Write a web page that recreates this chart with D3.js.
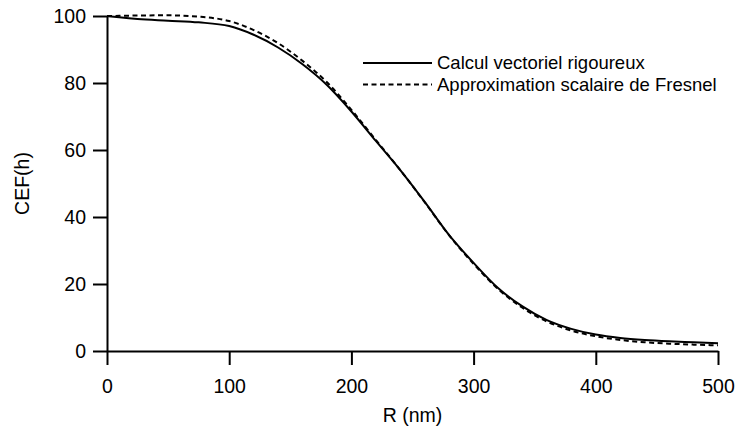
<!DOCTYPE html>
<html>
<head>
<meta charset="utf-8">
<script src="https://cdn.jsdelivr.net/npm/d3@7"></script>
<style>
  body { margin: 0; background: #fff; }
  text { font-family: "Liberation Sans", Arial, Helvetica, sans-serif; }
</style>
</head>
<body>
<svg id="chart" width="738" height="429"></svg>
<script>
// R (nm) sample positions
const radius = [0, 10, 25, 50, 75, 100, 120, 140, 160, 180, 200, 220, 240, 260, 280, 300, 320, 340, 360, 380, 400, 420, 440, 460, 480, 500];
// rigorous vector computation
const vectoriel = [100, 99.6, 99.1, 98.6, 98.1, 97.0, 94.4, 90.6, 85.6, 79.4, 71.5, 62.7, 54.0, 44.5, 34.6, 26.3, 18.8, 13.3, 9.2, 6.6, 4.9, 3.9, 3.3, 2.9, 2.6, 2.3];
// scalar Fresnel approximation
const fresnel = [100, 100.05, 100.15, 100.2, 99.8, 98.5, 95.8, 91.9, 86.6, 80.2, 72.0, 63.0, 54.0, 44.4, 34.5, 26.0, 18.5, 12.9, 8.8, 6.1, 4.4, 3.3, 2.6, 2.2, 1.9, 1.7];
const xTicks = [0, 100, 200, 300, 400, 500];
const yTicks = [0, 20, 40, 60, 80, 100];
const seriesNames = ['Calcul vectoriel rigoureux', 'Approximation scalaire de Fresnel'];

const margin = { left: 107, right: 20, top: 16, bottom: 78 };
const width = 738, height = 429;
const svg = d3.select('#chart');

const x = d3.scaleLinear().domain([0, 500]).range([margin.left, width - margin.right]);
const y = d3.scaleLinear().domain([0, 100]).range([height - margin.bottom, margin.top]);

const fontSize = 19.5;

// axes
const gx = svg.append('g')
    .attr('transform', `translate(0, ${y(0)})`)
    .call(d3.axisBottom(x).tickValues(xTicks).tickSize(14).tickSizeOuter(0).tickPadding(6));
const gy = svg.append('g')
    .attr('transform', `translate(${x(0)}, 0)`)
    .call(d3.axisLeft(y).tickValues(yTicks).tickSize(14).tickSizeOuter(0).tickPadding(7));

[gx, gy].forEach(g => {
    g.select('.domain').attr('stroke', '#000').attr('stroke-width', 2);
    g.selectAll('.tick line').attr('stroke', '#000').attr('stroke-width', 2);
    g.selectAll('.tick text')
        .attr('fill', '#000')
        .attr('font-size', fontSize)
        .attr('font-family', '"Liberation Sans", Arial, sans-serif');
});
gx.selectAll('.tick text').attr('dy', '1.15em');

svg.append('text')
    .attr('x', (x(0) + x(500)) / 2)
    .attr('y', 415)
    .attr('text-anchor', 'middle')
    .attr('dy', '0.35em')
    .attr('font-size', fontSize)
    .text('R (nm)');

svg.append('text')
    .attr('transform', `translate(22, ${(y(0) + y(100)) / 2}) rotate(-90)`)
    .attr('text-anchor', 'middle')
    .attr('dy', '0.35em')
    .attr('font-size', fontSize)
    .text('CEF(h)');

// curves
const line = d3.line()
    .x((d, i) => x(radius[i]))
    .y(d => y(d))
    .curve(d3.curveMonotoneX);

svg.append('path')
    .datum(fresnel)
    .attr('fill', 'none')
    .attr('stroke', '#000')
    .attr('stroke-width', 2)
    .attr('stroke-dasharray', '5,3.5')
    .attr('d', line);

svg.append('path')
    .datum(vectoriel)
    .attr('fill', 'none')
    .attr('stroke', '#000')
    .attr('stroke-width', 2)
    .attr('d', line);

// legend
const legend = svg.append('g').attr('transform', 'translate(363, 63)');
const dashes = [null, '5,3.5'];
seriesNames.forEach((name, i) => {
    const row = legend.append('g').attr('transform', `translate(0, ${i * 21.5})`);
    row.append('line')
        .attr('x1', 0).attr('x2', 69)
        .attr('stroke', '#000')
        .attr('stroke-width', 2)
        .attr('stroke-dasharray', dashes[i]);
    row.append('text')
        .attr('x', 74)
        .attr('dy', '0.34em')
        .attr('font-size', 18.5)
        .text(name);
});
</script>
</body>
</html>
